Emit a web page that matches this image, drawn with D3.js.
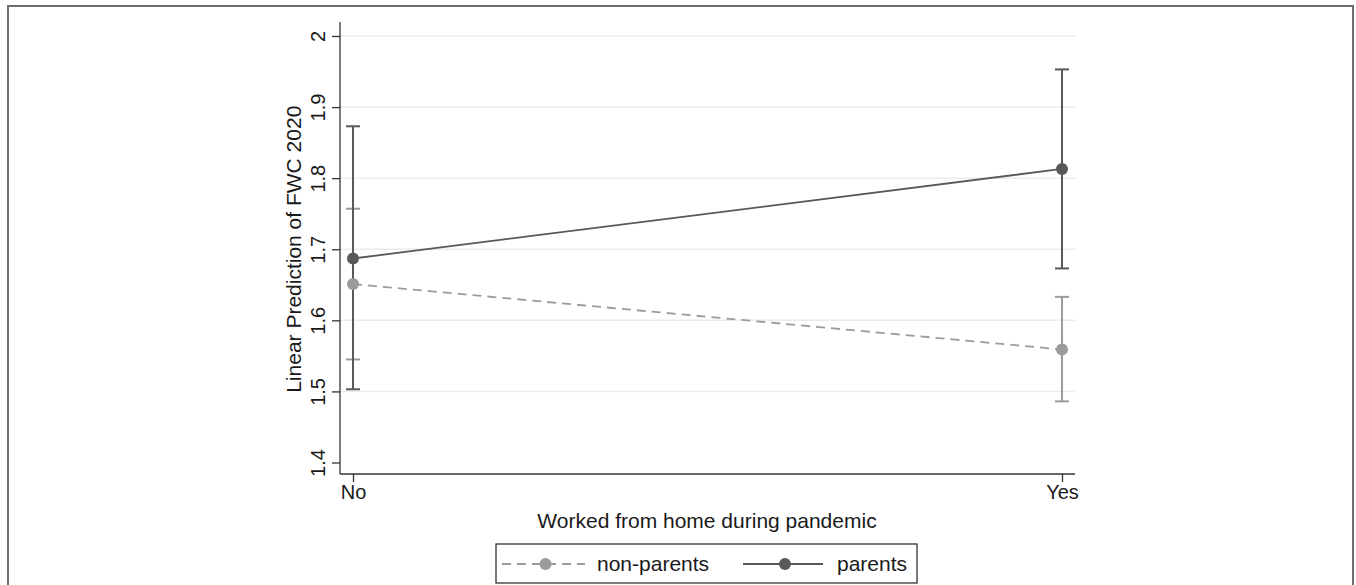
<!DOCTYPE html>
<html>
<head>
<meta charset="utf-8">
<script src="https://cdn.jsdelivr.net/npm/d3@7"></script>
<style>
  body { margin: 0; background: #fff; }
  text { font-family: "Liberation Sans", Arial, sans-serif; fill: #1a1a1a; }
</style>
</head>
<body>
<div class="chart"></div>
<script>
// data
var categories = ["No", "Yes"];
var yTicks = [1.4, 1.5, 1.6, 1.7, 1.8, 1.9, 2];
var seriesNames = ["non-parents", "parents"];
var nonParents = [1.651, 1.559];
var nonParentsLo = [1.545, 1.486];
var nonParentsHi = [1.757, 1.633];
var parents = [1.687, 1.813];
var parentsLo = [1.503, 1.673];
var parentsHi = [1.873, 1.953];

var svgWidth = 1356;
var svgHeight = 585;

var svg = d3.select(".chart")
    .append("svg")
    .attr("width", svgWidth)
    .attr("height", svgHeight);

// outer frame (bottom edge falls outside the picture)
svg.append("path")
    .attr("d", "M8,590 V6 H1353 V590")
    .attr("fill", "none")
    .attr("stroke", "#6e6e6e")
    .attr("stroke-width", 2);

var plotLeft = 340, plotRight = 1075, plotTop = 22, plotBottom = 474;

var xScale = d3.scalePoint()
    .domain(categories)
    .range([353, 1062]);

var yScale = d3.scaleLinear()
    .domain([1.4, 2])
    .range([462.5, 36]);

// gridlines
svg.append("g").selectAll("line")
    .data(yTicks.filter(d => d > 1.4))
    .enter()
    .append("line")
    .attr("x1", plotLeft)
    .attr("x2", plotRight)
    .attr("y1", d => yScale(d))
    .attr("y2", d => yScale(d))
    .attr("stroke", "#e6eeee")
    .attr("stroke-width", 1.5);

// y axis
var yAxis = svg.append("g")
    .attr("transform", `translate(${plotLeft},0)`)
    .call(d3.axisLeft(yScale).tickValues(yTicks).tickSize(8).tickFormat(d3.format("")));
yAxis.select(".domain").attr("d", `M0,${plotTop}V${plotBottom}`).attr("stroke", "#333").attr("stroke-width", 1.3);
yAxis.selectAll(".tick line").attr("stroke", "#333").attr("stroke-width", 1.3);
yAxis.selectAll(".tick text")
    .attr("font-size", 20)
    .attr("transform", "rotate(-90)")
    .attr("x", 0)
    .attr("y", -15)
    .attr("dy", 0)
    .attr("text-anchor", "middle");

// x axis
var xAxis = svg.append("g")
    .attr("transform", `translate(0,${plotBottom})`)
    .call(d3.axisBottom(xScale).tickSize(8));
xAxis.select(".domain").attr("d", `M${plotLeft},0H${plotRight}`).attr("stroke", "#333").attr("stroke-width", 1.3);
xAxis.selectAll(".tick line").attr("stroke", "#333").attr("stroke-width", 1.3);
xAxis.selectAll(".tick text").attr("font-size", 20).attr("y", 11);

// axis titles
svg.append("text")
    .attr("transform", `translate(301,${(36 + 462.5) / 2}) rotate(-90)`)
    .attr("text-anchor", "middle")
    .attr("font-size", 21)
    .text("Linear Prediction of FWC 2020");

svg.append("text")
    .attr("x", 707)
    .attr("y", 528)
    .attr("text-anchor", "middle")
    .attr("font-size", 21)
    .text("Worked from home during pandemic");

var series = [
    { name: seriesNames[0], vals: nonParents, lo: nonParentsLo, hi: nonParentsHi, color: "#9b9b9b", dash: "9,6" },
    { name: seriesNames[1], vals: parents, lo: parentsLo, hi: parentsHi, color: "#595959", dash: null }
];

var line = d3.line()
    .x((d, i) => xScale(categories[i]))
    .y(d => yScale(d));

series.forEach(s => {
    var g = svg.append("g");
    // error bars
    categories.forEach((c, i) => {
        var x = xScale(c);
        g.append("line")
            .attr("x1", x).attr("x2", x)
            .attr("y1", yScale(s.lo[i])).attr("y2", yScale(s.hi[i]))
            .attr("stroke", s.color).attr("stroke-width", 2);
        [s.lo[i], s.hi[i]].forEach(v => {
            g.append("line")
                .attr("x1", x - 7).attr("x2", x + 7)
                .attr("y1", yScale(v)).attr("y2", yScale(v))
                .attr("stroke", s.color).attr("stroke-width", 2);
        });
    });
});

series.forEach(s => {
    svg.append("path")
        .datum(s.vals)
        .attr("d", line)
        .attr("fill", "none")
        .attr("stroke", s.color)
        .attr("stroke-width", 1.8)
        .attr("stroke-dasharray", s.dash);
    svg.append("g").selectAll("circle")
        .data(s.vals)
        .enter()
        .append("circle")
        .attr("cx", (d, i) => xScale(categories[i]))
        .attr("cy", d => yScale(d))
        .attr("r", 6)
        .attr("fill", s.color);
});

// legend
var legend = svg.append("g");
legend.append("rect")
    .attr("x", 496).attr("y", 544)
    .attr("width", 421).attr("height", 39)
    .attr("fill", "#fff")
    .attr("stroke", "#333")
    .attr("stroke-width", 1.3);

var legendItems = [
    { s: series[0], x0: 502, x1: 585, tx: 597 },
    { s: series[1], x0: 743, x1: 823, tx: 837 }
];
legendItems.forEach(it => {
    var ly = 564;
    legend.append("line")
        .attr("x1", it.x0).attr("x2", it.x1)
        .attr("y1", ly).attr("y2", ly)
        .attr("stroke", it.s.color)
        .attr("stroke-width", 1.8)
        .attr("stroke-dasharray", it.s.dash);
    legend.append("circle")
        .attr("cx", (it.x0 + it.x1) / 2 + 2)
        .attr("cy", ly)
        .attr("r", 6)
        .attr("fill", it.s.color);
    legend.append("text")
        .attr("x", it.tx)
        .attr("y", ly + 7)
        .attr("font-size", 21)
        .text(it.s.name);
});
</script>
</body>
</html>
